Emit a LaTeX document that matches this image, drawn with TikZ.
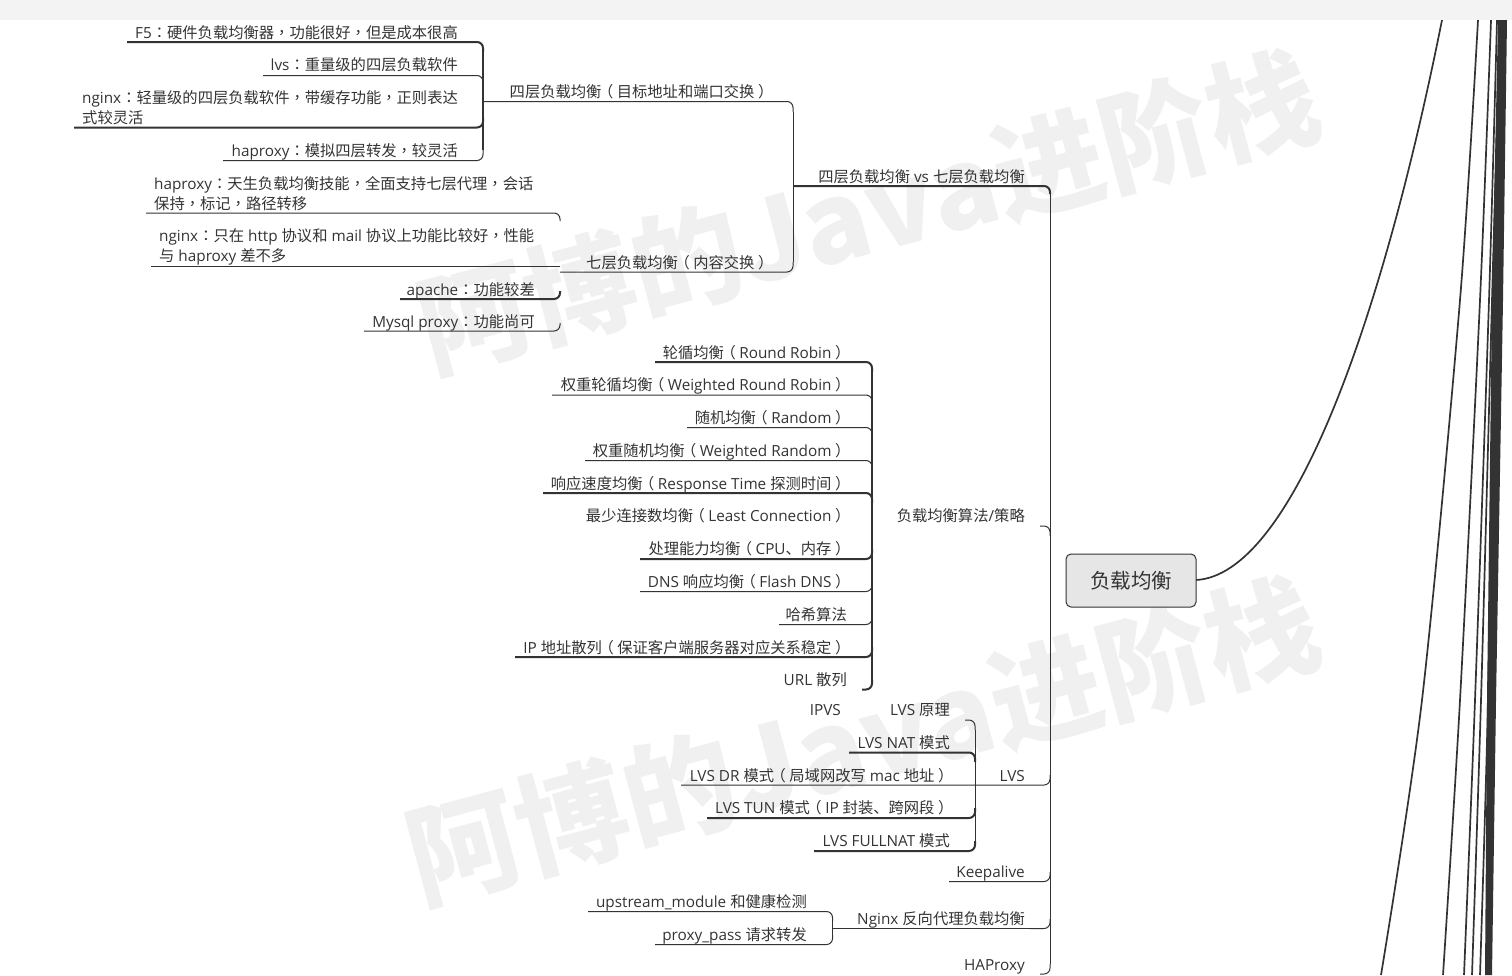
\documentclass[tikz,border=0pt]{standalone}
\usepackage{fontspec}
\setmainfont{Open Sans}
\newfontfamily\cjk{Noto Sans CJK SC}
\newfontfamily\cjkt{Noto Sans CJK TC}
\newcommand\C[1]{{\cjk #1}}
\newcommand\LP{{\cjk\kern-.23em（\kern.23em}}
\newcommand\RP{{\cjk\kern.23em）\kern-.23em}}
\newcommand\CO{{\cjkt ：}}
\newcommand\CM{{\cjkt ，}}
\definecolor{ink}{HTML}{333333}
\definecolor{wm}{HTML}{F0F0F0}
\definecolor{topbar}{HTML}{F3F3F3}
\definecolor{rootfill}{HTML}{E6E6E6}
\tikzset{
  lbl/.style={inner sep=0pt,text=ink,font=\fontsize{15.3}{20}\selectfont},
  multi/.style={lbl,align=left,anchor=west},
  thinl/.style={draw=ink,line width=1pt,rounded corners=6pt},
  thickl/.style={draw=ink,line width=2pt,rounded corners=6pt},
  mark-wm/.style={inner sep=0pt,text=wm,rotate=15,anchor=base west,font=\cjk\bfseries\fontsize{#1}{112}\selectfont},
  rootbox/.style={draw=ink,line width=1pt,fill=rootfill,rounded corners=5pt,inner sep=0pt,text=ink,minimum width=130pt,minimum height=53pt,font=\fontsize{20.5}{24}\selectfont},
  farline/.style={draw=ink,line width=1.7pt}
}
% \leaf{name}{right x}{centre y}{text}
\newcommand\leaf[4]{\node[lbl,anchor=base east] (#1) at (#2,#3+6.5) {#4};}
% \conn{style}{name}{left x}{line y}{trunk x}{end y}
\newcommand\conn[6]{%
  \coordinate (#2-a) at (#3,#4);
  \coordinate (#2-b) at (#5,#4);
  \coordinate (#2-c) at (#5,#6);
  \path[#1] (#2-a) -- (#2-b) -- (#2-c);}
\begin{document}
\begin{tikzpicture}[x=1pt,y=-1pt]
\useasboundingbox (0,0) rectangle (1512,975);
\clip (0,0) rectangle (1512,975);
% watermarks
\node[mark-wm=110.5] (wm1) at (431,372) {阿博的Java进阶栈};
\node[mark-wm=112] (wm2) at (420,903) {阿博的Java进阶栈};
% far-right curves
\draw[farline] (1196,580) .. controls (1290,575) and (1380,330) .. (1442,20);
\draw[farline] plot[smooth] coordinates {(1478,20) (1460,300) (1422,700) (1381,975)};
\draw[farline] plot[smooth] coordinates {(1491,20) (1480,300) (1460,700) (1443,975)};
\draw[farline] plot[smooth] coordinates {(1497,20) (1489,300) (1475,700) (1464,975)};
\draw[farline] plot[smooth] coordinates {(1500,20) (1492,300) (1481,700) (1472,975)};
\draw[farline] plot[smooth] coordinates {(1502,20) (1495,300) (1488,700) (1480,975)};
\fill[ink] (1498,20) -- (1507,20) -- (1503,300) -- (1496,700) -- (1492,975) -- (1485,975) -- (1487,700) -- (1492,300) -- cycle;
\fill[topbar] (0,0) rectangle (1512,20);
% root
\node[rootbox] (root) at (1131,580.5) {\C{负载均衡}};
% labels: four-layer group
\leaf{f5}{458}{32}{F5\CO\C{硬件负载均衡器}\CM\C{功能很好}\CM\C{但是成本很高}}
\leaf{lvsa}{458}{64}{lvs\CO\C{重量级的四层负载软件}}
\node[multi] (nginxa) at (82,108) {nginx\CO\C{轻量级的四层负载软件}\CM\C{带缓存功能}\CM\C{正则表达}\\\C{式较灵活}};
\leaf{hapa}{458}{150}{haproxy\CO\C{模拟四层转发}\CM\C{较灵活}}
\leaf{four}{770}{91}{\C{四层负载均衡}\LP\C{目标地址和端口交换}\RP}
% seven-layer group
\node[multi] (hapb) at (154,194) {haproxy\CO\C{天生负载均衡技能}\CM\C{全面支持七层代理}\CM\C{会话}\\\C{保持}\CM\C{标记}\CM\C{路径转移}};
\node[multi] (nginxb) at (159,247) {nginx\CO\C{只在} http \C{协议和} mail \C{协议上功能比较好}\CM\C{性能}\\\C{与} haproxy \C{差不多}};
\leaf{apache}{535}{289}{apache\CO\C{功能较差}}
\leaf{mysql}{535}{321}{Mysql proxy\CO\C{功能尚可}}
\leaf{seven}{770}{262}{\C{七层负载均衡}\LP\C{内容交换}\RP}
\leaf{vs}{1025}{176}{\C{四层负载均衡} vs \C{七层负载均衡}}
% algorithms
\leaf{rr}{847}{352}{\C{轮循均衡}\LP Round Robin\RP}
\leaf{wrr}{847}{384}{\C{权重轮循均衡}\LP Weighted Round Robin\RP}
\leaf{rnd}{847}{417}{\C{随机均衡}\LP Random\RP}
\leaf{wrnd}{847}{450}{\C{权重随机均衡}\LP Weighted Random\RP}
\leaf{resp}{847}{483}{\C{响应速度均衡}\LP Response Time \C{探测时间}\RP}
\leaf{lc}{847}{515}{\C{最少连接数均衡}\LP Least Connection\RP}
\leaf{cpu}{847}{548}{\C{处理能力均衡}\LP CPU\C{、内存}\RP}
\leaf{dns}{847}{581}{DNS \C{响应均衡}\LP Flash DNS\RP}
\leaf{hash}{847}{614}{\C{哈希算法}}
\leaf{ip}{847}{647}{IP \C{地址散列}\LP\C{保证客户端服务器对应关系稳定}\RP}
\leaf{url}{847}{679}{URL \C{散列}}
\leaf{algo}{1025}{515}{\C{负载均衡算法}/\C{策略}}
% LVS
\leaf{ipvs}{841}{709}{IPVS}
\leaf{lvsp}{950}{709}{LVS \C{原理}}
\leaf{nat}{950}{742}{LVS NAT \C{模式}}
\leaf{dr}{950}{775}{LVS DR \C{模式}\LP\C{局域网改写} mac \C{地址}\RP}
\leaf{tun}{950}{807}{LVS TUN \C{模式}\LP IP \C{封装、跨网段}\RP}
\leaf{full}{950}{840}{LVS FULLNAT \C{模式}}
\leaf{lvs}{1025}{775}{LVS}
\leaf{keep}{1025}{871}{Keepalive}
\leaf{up}{807}{901}{upstream\_module \C{和健康检测}}
\leaf{pass}{807}{934}{proxy\_pass \C{请求转发}}
\leaf{ngx}{1025}{918}{Nginx \C{反向代理负载均衡}}
\leaf{hap}{1025}{964}{HAProxy}
% four-layer connectors
\conn{thickl}{cf5}{127}{42}{483}{52}
\conn{thinl}{clvsa}{263}{75.5}{483}{85}
\conn{thickl}{cnga}{74}{127.5}{483}{118}
\conn{thinl}{chapa}{223}{160.5}{483}{150}
\draw[ink,line width=1.5pt] (cf5-c) -- (chapa-c);
\conn{thinl}{cfour}{483}{101.5}{793}{112}
\conn{thinl}{cseven}{560}{272}{793}{262}
\draw[ink,line width=1pt] (cfour-c) -- (cseven-c);
% seven-layer connectors
\conn{thinl}{chapb}{146}{213}{560}{221}
\coordinate (cngb-a) at (151,266.5);
\coordinate (cngb-b) at (560,266.5);
\draw[ink,line width=1pt] (cngb-a) -- (cngb-b);
\conn{thickl}{capa}{400}{299}{560}{291}
\conn{thinl}{cmys}{364}{331}{560}{323}
% algorithm connectors
\conn{thickl}{crr}{655}{362}{872}{372}
\conn{thinl}{cwrr}{552}{395}{872}{405}
\conn{thinl}{crnd}{687}{427.5}{872}{437}
\conn{thinl}{cwrnd}{585}{460.5}{872}{470}
\conn{thickl}{cresp}{543}{493}{872}{503}
\conn{thickl}{ccpu}{640}{559}{872}{549}
\conn{thinl}{cdns}{640}{591.5}{872}{582}
\conn{thinl}{chash}{779}{624.5}{872}{615}
\conn{thickl}{cip}{515}{657}{872}{647}
\conn{thickl}{curl}{862}{689.5}{872}{680}
\draw[ink,line width=2pt] (crr-c) -- (curl-c);
% LVS connectors
\conn{thinl}{clp}{965}{720}{975}{730}
\conn{thickl}{cnat}{849}{752.5}{975}{762}
\conn{thickl}{ctun}{707}{818}{975}{808}
\conn{thickl}{cful}{814}{851}{975}{841}
\draw[ink,line width=1pt] (clp-c) -- (cful-c);
% nginx subtree
\conn{thinl}{cup}{588}{911.5}{832.5}{921}
\conn{thinl}{cpas}{655}{944.5}{832.5}{935}
\draw[ink,line width=1pt] (cup-c) -- (cpas-c);
\coordinate (cngx-j) at (832.5,928.5);
\coordinate (cngx-k) at (1040,928.5);
\draw[ink,line width=1pt] (cngx-j) -- (cngx-k);
% main trunk
\conn{thickl}{cvs}{793}{186}{1050}{194}
\conn{thinl}{calg}{1040}{526}{1050}{536}
\conn{thinl}{clvs}{681}{785}{1050}{775}
\conn{thinl}{ckeep}{949}{881.5}{1050}{872}
\conn{thinl}{cngx}{1030}{928.5}{1050}{919}
\conn{thinl}{chap}{1040}{974}{1050}{964}
\draw[ink,line width=1pt] (cvs-c) -- (chap-c);
\end{tikzpicture}
\end{document}
